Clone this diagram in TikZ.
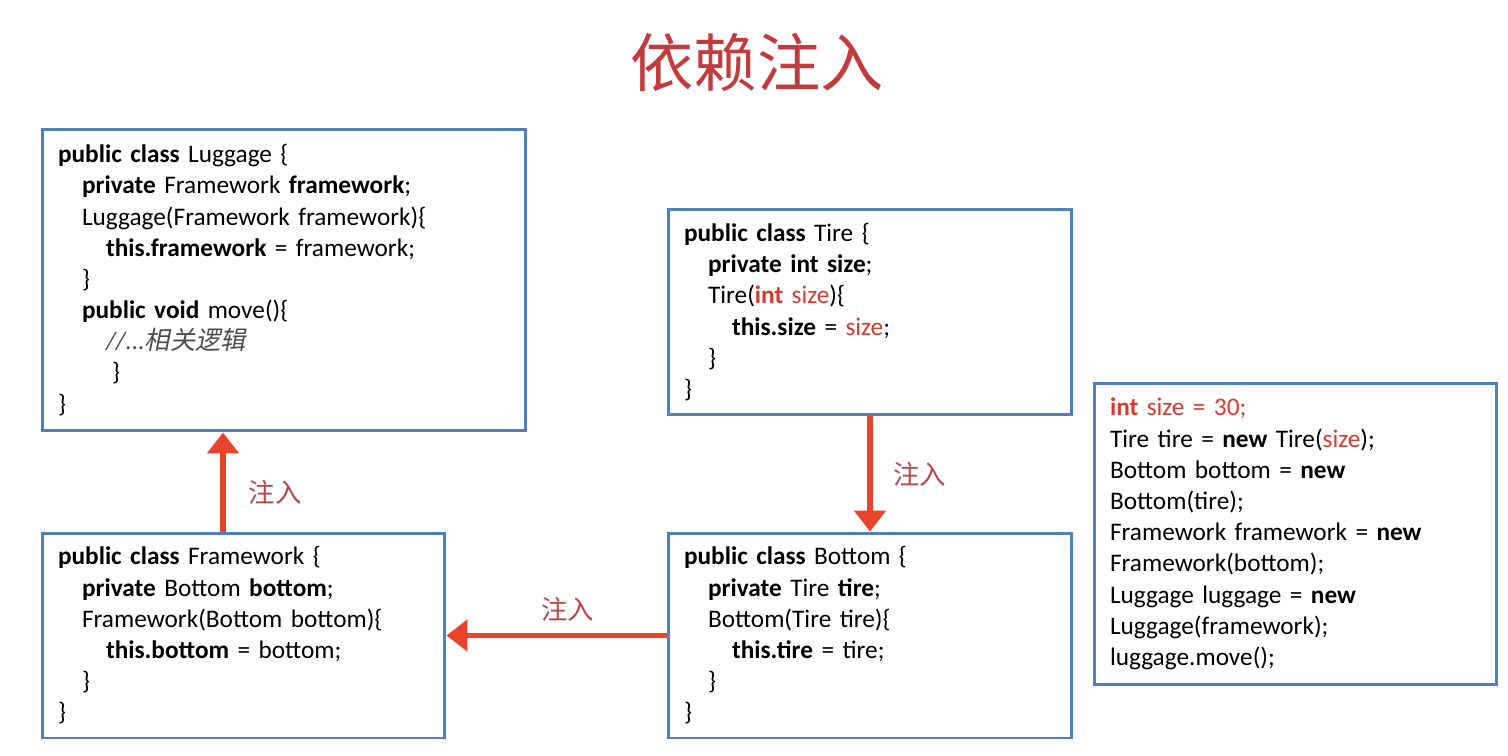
\documentclass[tikz,border=0pt]{standalone}
\usepackage{fontspec}
\setmainfont{Carlito}
\newfontfamily\cjk{Noto Sans CJK SC}
\newfontfamily\cjkit[FakeSlant=0.2]{Noto Sans CJK SC}
\usetikzlibrary{arrows.meta}
\definecolor{boxblue}{HTML}{4F81BD}
\definecolor{injred}{HTML}{E8432B}
\definecolor{codered}{HTML}{D83A2F}
\definecolor{titlered}{HTML}{C23B3E}
\definecolor{lblred}{HTML}{B8454B}
\newcommand{\kw}[1]{\textbf{#1}}
\newcommand{\rd}[1]{\textcolor{codered}{#1}}
\newcommand{\ind}{\hspace*{0.48cm}}

\begin{document}
\begin{tikzpicture}[x=0.02cm,y=-0.02cm,
		codebox/.style={rectangle,draw=boxblue,line width=1.7pt,fill=white,
			inner xsep=0.32cm,inner ysep=0pt,align=left,
			font=\fontsize{14.4}{17.75}\selectfont},
		inject/.style={-{Triangle[length=0.42cm,width=0.62cm]},draw=injred,line width=3pt},
		lbl/.style={font=\cjk\fontsize{15}{18}\selectfont,text=lblred},
		]
		\useasboundingbox (0,0) rectangle (1508,755);
		% title
		\node[font=\cjk\fontsize{36}{40}\selectfont,text=titlered] (ttl) at (757,62) {依赖注入};
		
		% the four classes
		\node[codebox,text width=9.04cm,minimum height=6.04cm] (lug) at (284,280)
		{\kw{public class} Luggage \{\\
			\ind\kw{private} Framework \kw{framework};\\
			\ind Luggage(Framework framework)\{\\
			\ind\ind\kw{this.framework} = framework;\\
			\ind\}\\
			\ind\kw{public void} move()\{\\
			\ind\ind\textcolor{black!70}{\itshape //...{\cjkit 相关逻辑}}\\
			\ind\ind\hspace*{0.12cm}\}\\
			\}};
		\node[codebox,text width=7.44cm,minimum height=4.12cm] (tire) at (870,312)
		{\kw{public class} Tire \{\\
			\ind\kw{private int size};\\
			\ind Tire(\rd{\kw{int} size})\{\\
			\ind\ind\kw{this.size} = \rd{size};\\
			\ind\}\\
			\}};
		\node[codebox,text width=7.42cm,minimum height=4.1cm] (frame) at (243.5,635.5)
		{\kw{public class} Framework \{\\
			\ind\kw{private} Bottom \kw{bottom};\\
			\ind Framework(Bottom bottom)\{\\
			\ind\ind\kw{this.bottom} = bottom;\\
			\ind\}\\
			\}};
		\node[codebox,text width=7.44cm,minimum height=4.1cm] (bottom) at (870,635.5)
		{\kw{public class} Bottom \{\\
			\ind\kw{private} Tire \kw{tire};\\
			\ind Bottom(Tire tire)\{\\
			\ind\ind\kw{this.tire} = tire;\\
			\ind\}\\
			\}};
		
		% assembling code
		\node[codebox,text width=7.42cm,minimum height=6.04cm] (main) at (1295.5,534)
		{\rd{\kw{int} size = 30;}\\
			Tire tire = \kw{new} Tire(\rd{size});\\
			Bottom bottom = \kw{new}\\
			Bottom(tire);\\
			Framework framework = \kw{new}\\
			Framework(bottom);\\
			Luggage luggage = \kw{new}\\
			Luggage(framework);\\
			luggage.move();};
		
		% injection arrows
		\draw[inject] ([xshift=-0.41cm]frame.north) -- ([xshift=-0.41cm]frame.north |- lug.south)
		node[lbl,pos=0.4,right=0.35cm] (l1) {注入};
		\draw[inject] (tire) -- (bottom) node[lbl,midway,right=0.3cm] (l2) {注入};
		\draw[inject] (bottom) -- (frame) node[lbl,pos=0.45,above=0.12cm] (l3) {注入};
	\end{tikzpicture}
\end{document}
